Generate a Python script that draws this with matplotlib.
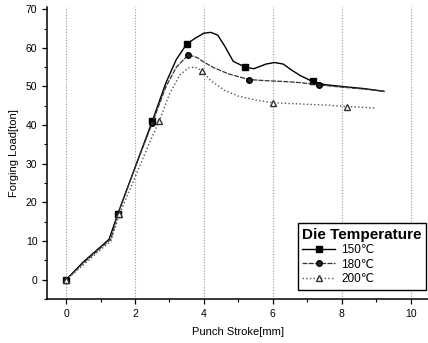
import matplotlib.pyplot as plt

plt.rcParams['font.family'] = ['Liberation Sans', 'DejaVu Sans']

# punch stroke [mm] / forging load [ton]
stroke_150 = [0, 0.5, 1.0, 1.25, 1.5, 2.0, 2.5, 2.9, 3.2, 3.5, 3.75, 4.0, 4.2, 4.4, 4.6, 4.85, 5.2,
              5.45, 5.8, 6.05, 6.3, 6.55, 6.8, 7.15, 7.5, 8.0, 8.6, 9.2]
load_150 = [0, 4.6, 8.5, 10.5, 17, 29, 41, 51, 57, 61, 62.5, 63.8, 64, 63.3, 60.5, 56.5, 55,
            54.6, 55.8, 56.2, 55.8, 54.2, 52.8, 51.3, 50.5, 50.0, 49.5, 48.8]
marks_150 = [0, 4, 6, 9, 16, 23]

stroke_180 = [0, 0.5, 1.0, 1.3, 1.5, 2.0, 2.5, 2.9, 3.2, 3.55, 3.8, 4.0, 4.3, 4.7, 5.3, 5.8, 6.3,
              6.8, 7.35, 7.8, 8.3, 8.8, 9.25]
load_180 = [0, 4.3, 8.2, 10.5, 17, 29, 40.5, 50, 55, 58.2, 57.5, 56.3, 54.8, 53.3, 51.8, 51.5, 51.3,
            51.0, 50.4, 50.0, 49.6, 49.2, 48.7]
marks_180 = [0, 4, 6, 9, 14, 18]

stroke_200 = [0, 0.5, 1.0, 1.3, 1.55, 2.0, 2.4, 2.7, 3.0, 3.3, 3.55, 3.75, 3.95, 4.2, 4.6, 5.0,
              5.5, 6.0, 6.5, 7.0, 7.5, 8.15, 8.6, 9.0]
load_200 = [0, 3.8, 7.8, 10, 17, 26.5, 35, 41, 48, 53, 54.8, 55, 54, 51.5, 49, 47.5,
            46.5, 45.8, 45.6, 45.4, 45.2, 44.8, 44.6, 44.4]
marks_200 = [0, 4, 7, 12, 17, 21]

labels = ['150\u2103', '180\u2103', '200\u2103']

fig = plt.figure(figsize=(4.28, 3.43), dpi=100)
ax = fig.add_axes([0.11, 0.128, 0.89, 0.852])

ax.plot(stroke_150, load_150, '-', color='black', lw=1.0, marker='s', ms=4,
        markevery=marks_150, mfc='black', mec='black', label=labels[0])
ax.plot(stroke_180, load_180, '--', dashes=(4, 1), color='#333333', lw=0.9, marker='o', ms=4,
        markevery=marks_180, mfc='#222222', mec='black', label=labels[1])
ax.plot(stroke_200, load_200, ':', color='#555555', lw=1.0, marker='^', ms=4.5,
        markevery=marks_200, mfc='white', mec='#333333', label=labels[2])

ax.set_xlim(-0.55, 10.5)
ax.set_ylim(-5, 70.6)
ax.set_xticks([0, 2, 4, 6, 8, 10])
ax.set_xticks([1, 3, 5, 7, 9], minor=True)
ax.set_yticks(range(0, 71, 10))
ax.set_yticks(range(-5, 71, 5), minor=True)
ax.tick_params(direction='out', labelsize=7.5, length=3.5, width=0.9)
ax.tick_params(which='minor', direction='out', length=2, width=0.8)

for x in [0, 2, 4, 6, 8, 10]:
    ax.axvline(x, color='#999999', lw=0.8, ls=(0, (1, 1.5)), zorder=0)

ax.spines['top'].set_visible(False)
ax.spines['right'].set_visible(False)
ax.spines['left'].set_linewidth(1.1)
ax.spines['bottom'].set_linewidth(1.1)

ax.set_xlabel('Punch Stroke[mm]', fontsize=8, labelpad=6)
ax.set_ylabel('Forging Load[ton]', fontsize=8, labelpad=5)

leg = ax.legend(title='Die Temperature', loc='lower left', bbox_to_anchor=(0.642, 0.012),
                fontsize=8.5, title_fontproperties={'weight': 'bold', 'size': 11},
                fancybox=False, edgecolor='black', framealpha=1, handlelength=2.8,
                borderpad=0.4, labelspacing=0.2, handletextpad=0.5)
leg.get_frame().set_linewidth(1.0)
leg._legend_box.align = 'left'

fig.savefig('out.png', dpi=100)
